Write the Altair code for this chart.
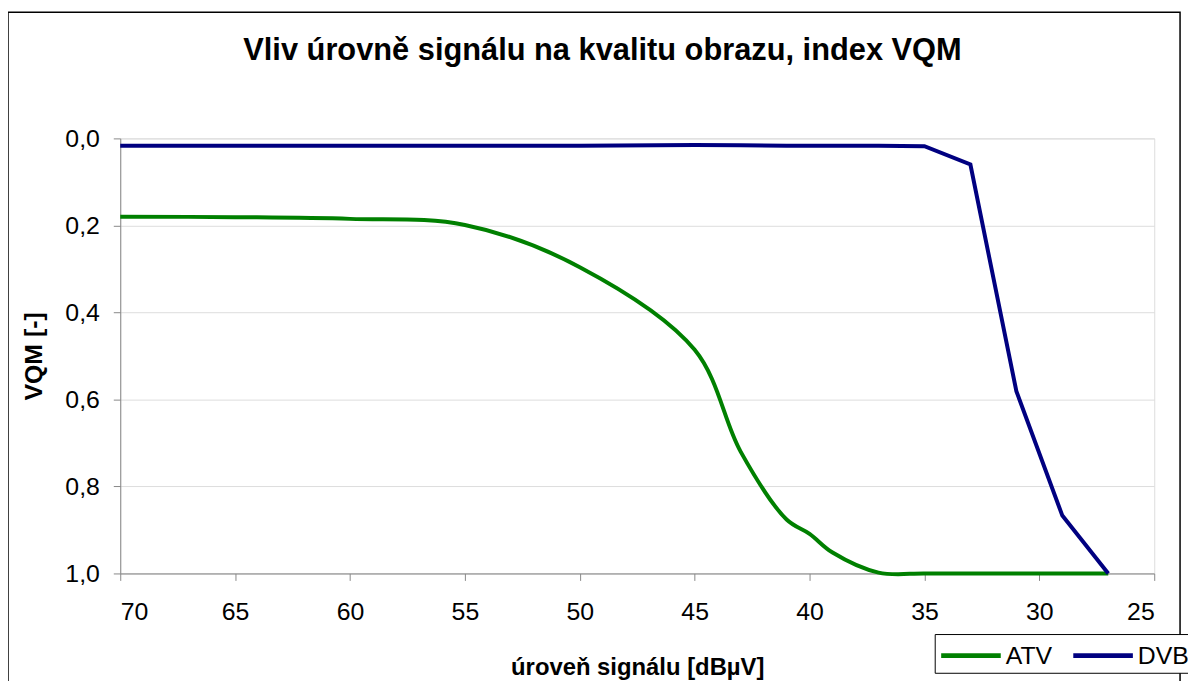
import altair as alt
import pandas as pd

# ---- data ----
x_levels = [70, 65, 60, 55, 50, 45, 43, 41, 40, 39, 37, 35, 33, 31, 29, 27]
atv_vqm = [0.180, 0.181, 0.185, 0.199, 0.296, 0.486, 0.720, 0.876, 0.909, 0.952,
           0.998, 1.0, 1.0, 1.0, 1.0, 1.0]
dvb_vqm = [0.017, 0.017, 0.017, 0.017, 0.017, 0.015, 0.016, 0.017, 0.017, 0.017,
           0.017, 0.018, 0.060, 0.581, 0.867, 1.0]
series_names = ["ATV", "DVB"]
series_colors = ["#008000", "#000080"]
x_ticks = [70, 65, 60, 55, 50, 45, 40, 35, 30, 25]
y_ticks = [0.0, 0.2, 0.4, 0.6, 0.8, 1.0]

title_text = "Vliv úrovně signálu na kvalitu obrazu, index VQM"
x_title = "úroveň signálu [dBµV]"
y_title = "VQM [-]"

atv_df = pd.DataFrame({"x": x_levels, "v": atv_vqm, "s": series_names[0]})
dvb_df = pd.DataFrame({"x": x_levels, "v": dvb_vqm, "s": series_names[1]})

FONT = "Liberation Sans"
W, H = 1041, 438

x_enc = alt.X("x:Q",
              scale=alt.Scale(domain=[25, 70], reverse=True, nice=False, zero=False),
              axis=alt.Axis(values=x_ticks, title=x_title, grid=False,
                            labelFontSize=25, labelPadding=19, tickSize=7,
                            titleFontSize=24, titleFontWeight="bold",
                            titleX=W / 2, titleY=102, titleBaseline="alphabetic",
                            titleAlign="center"))
y_enc = alt.Y("v:Q",
              scale=alt.Scale(domain=[0, 1], reverse=True, nice=False),
              axis=alt.Axis(values=y_ticks, title=y_title, grid=True,
                            labelExpr="replace(format(datum.value, '.1f'), '.', ',')",
                            labelFontSize=25, labelPadding=14, tickSize=7,
                            titleFontSize=25, titleFontWeight="bold",
                            titleX=-87, titleY=H / 2, titleBaseline="middle",
                            titleAlign="center", titleAngle=270))
color_enc = alt.Color("s:N",
                      scale=alt.Scale(domain=series_names, range=series_colors),
                      legend=alt.Legend(title=None, orient="none", legendX=820, legendY=499,
                                        direction="horizontal", symbolType="M-2,0H2",
                                        symbolSize=900, symbolStrokeWidth=5,
                                        symbolOffset=15, labelOffset=17.5,
                                        labelFontSize=25, columnPadding=10,
                                        padding=4, strokeColor="black", fillColor="white",
                                        labelFont=FONT, labelColor="black"))

atv = alt.Chart(atv_df).mark_line(strokeWidth=4, interpolate="catmull-rom").encode(
    x=x_enc, y=y_enc, color=color_enc)
dvb = alt.Chart(dvb_df).mark_line(strokeWidth=4).encode(
    x=x_enc, y=y_enc, color=color_enc)

frame = alt.Chart(pd.DataFrame({"k": [0]})).mark_rect(
    fillOpacity=0, stroke="black", strokeWidth=1.5).encode(
    x=alt.value(-113), x2=alt.value(1067), y=alt.value(-127), y2=alt.value(560))

chart = alt.layer(frame, atv, dvb).properties(
    width=W, height=H,
    title=alt.Title(title_text, fontSize=31, fontWeight="bold", font=FONT,
                    anchor="middle", frame="group", offset=-80, dx=-35,
                    baseline="alphabetic", color="black"),
    autosize=alt.AutoSizeParams(type="none"),
    padding={"left": 113, "top": 129, "right": 34, "bottom": 106},
).configure_axis(
    labelFont=FONT, titleFont=FONT, labelColor="black", titleColor="black",
    domainColor="black", tickColor="black", gridColor="#c0c0c0", domainWidth=1.2,
).configure_view(stroke=None).configure(background="white")

chart.save("out.html", embed_options={"renderer": "svg", "actions": False})
